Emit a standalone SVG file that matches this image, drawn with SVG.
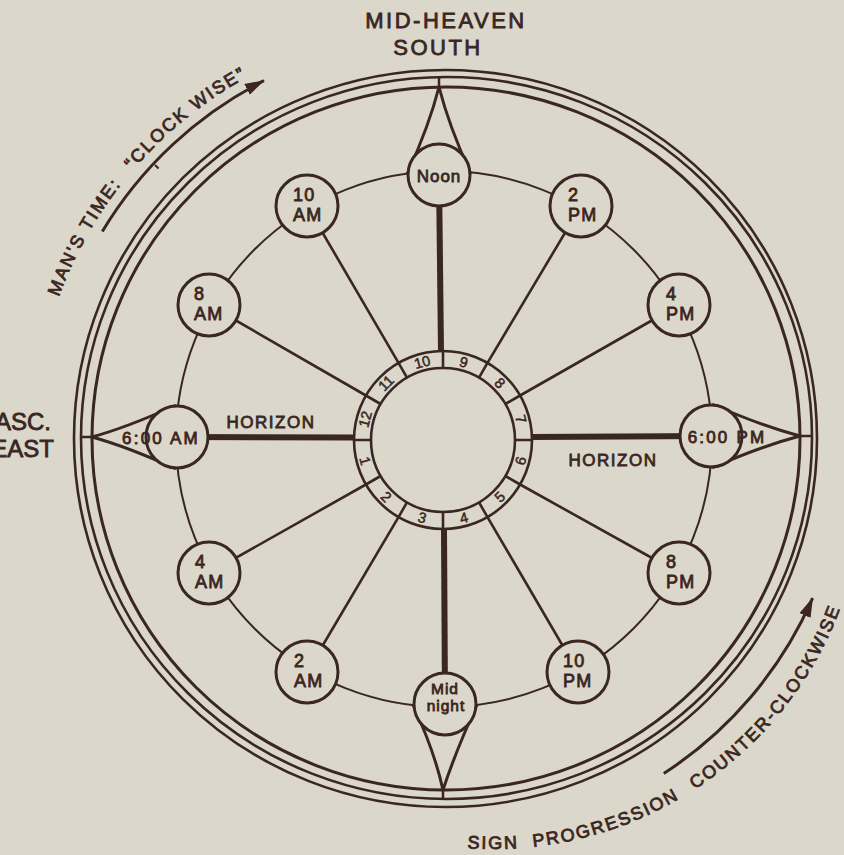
<svg xmlns="http://www.w3.org/2000/svg" width="844" height="855" viewBox="0 0 844 855">
<style>
.bg{fill:#dbd7cb}
.ln{fill:none;stroke:#3a2622}
.nd circle,.nd path{fill:#dbd7cb;stroke:#3a2622;stroke-width:3}
.t{font-family:"Liberation Sans",Arial,sans-serif;fill:#3a2622;stroke:#3a2622;stroke-width:0.8}
.nt{font-size:18px;letter-spacing:1.2px}
.num{font-size:14.5px;text-anchor:middle;dominant-baseline:central;stroke-width:0.5}
.arc{font-size:18px;letter-spacing:2px}
</style>
<defs>
<marker id="ah" viewBox="0 0 20 12" refX="19" refY="6" markerWidth="20" markerHeight="12" markerUnits="userSpaceOnUse" orient="auto">
<path d="M0,0 L20,6 L0,12 Z" fill="#3a2622"/>
</marker>
<path id="arcTL" d="M35.57,402.09 A412,412 0 0 1 410.09,27.57"/>
<path id="arcBR" d="M428.58,843.36 A371,371 0 0 0 862.59,510.34"/>
</defs>
<rect class="bg" x="0" y="0" width="844" height="855"/>

<g id="outer-rings" class="ln">
<ellipse cx="446" cy="438.5" rx="354" ry="351.5" stroke-width="3"/>
<ellipse cx="446.5" cy="438" rx="365.5" ry="361" stroke-width="2.6"/>
<ellipse cx="445.5" cy="438.5" rx="371.5" ry="368.5" stroke-width="2.6"/>
<path d="M439,87 V77.5 M92,437 H81 M800,436 H812 M443,790 V799" stroke-width="2.5"/>
</g>

<g id="connectors" class="ln">
<circle cx="444" cy="439" r="268" stroke-width="2"/>
<g stroke-width="2.6">
<line x1="307" y1="206" x2="398.5" y2="362.9"/>
<line x1="209" y1="305" x2="365.9" y2="395.5"/>
<line x1="209" y1="573" x2="365.9" y2="484.5"/>
<line x1="307" y1="672" x2="398.5" y2="517.1"/>
<line x1="581" y1="206" x2="487.5" y2="362.9"/>
<line x1="679" y1="305" x2="520.1" y2="395.5"/>
<line x1="679" y1="573" x2="520.1" y2="484.5"/>
<line x1="578" y1="672" x2="487.5" y2="517.1"/>
</g>
<g stroke-width="6">
<line x1="439" y1="175" x2="441" y2="352"/>
<line x1="445" y1="704" x2="444" y2="529"/>
<line x1="177" y1="437" x2="354" y2="437.5"/>
<line x1="711" y1="436" x2="532" y2="437"/>
</g>
</g>

<g id="sign-ring">
<g class="ln" stroke-width="2.6">
<circle cx="443" cy="440" r="89"/>
<circle cx="443" cy="440" r="72"/>
<path d="M515,440 H532 M505.4,404 L520.1,395.5 M479,377.6 L487.5,362.9 M443,368 V351 M407,377.6 L398.5,362.9 M380.6,404 L365.9,395.5 M371,440 H354 M380.6,476 L365.9,484.5 M407,502.4 L398.5,517.1 M443,512 V529 M479,502.4 L487.5,517.1 M505.4,476 L520.1,484.5"/>
</g>
<g class="t num">
<text transform="translate(422.2,362.2) rotate(-15)">10</text>
<text transform="translate(463.8,362.2) rotate(15)">9</text>
<text transform="translate(499.9,383.1) rotate(45)">8</text>
<text transform="translate(520.8,419.2) rotate(75)">7</text>
<text transform="translate(520.8,460.8) rotate(-75)">6</text>
<text transform="translate(499.9,496.9) rotate(-45)">5</text>
<text transform="translate(463.8,517.8) rotate(-15)">4</text>
<text transform="translate(422.2,517.8) rotate(15)">3</text>
<text transform="translate(386.1,496.9) rotate(45)">2</text>
<text transform="translate(365.2,460.8) rotate(75)">1</text>
<text transform="translate(365.2,419.2) rotate(-75)">12</text>
<text transform="translate(386.1,383.1) rotate(-45)">11</text>
</g>
</g>

<g id="n-noon" class="nd">
<path d="M408,172 Q429,126 439,87 Q449,126 470,172 Z"/>
<circle cx="439" cy="175" r="31"/>
<text class="t" x="439" y="181.5" font-size="17" letter-spacing="1" text-anchor="middle">Noon</text>
</g>
<g id="n-midnight" class="nd">
<path d="M414,707 Q435,753 443,790 Q455,753 476,707 Z"/>
<circle cx="445" cy="704" r="31"/>
<text class="t" x="445" y="694" font-size="15.5" letter-spacing="1" text-anchor="middle">Mid</text>
<text class="t" x="446" y="711" font-size="15.5" letter-spacing="1" text-anchor="middle">night</text>
</g>
<g id="n-6am" class="nd">
<path d="M174,406 Q128,427 92,437 Q128,447 174,468 Z"/>
<circle cx="177" cy="437" r="31"/>
<text class="t" x="161" y="443.5" font-size="17" letter-spacing="2.2" text-anchor="middle">6:00 AM</text>
</g>
<g id="n-6pm" class="nd">
<path d="M714,405 Q762,426 800,436 Q762,446 714,467 Z"/>
<circle cx="711" cy="436" r="31"/>
<text class="t" x="727" y="443" font-size="17" letter-spacing="2.2" text-anchor="middle">6:00 PM</text>
</g>

<g id="n-10am" class="nd"><circle cx="307" cy="206" r="31"/><text class="t nt" x="293" y="201">10</text><text class="t nt" x="293" y="221">AM</text></g>
<g id="n-8am" class="nd"><circle cx="209" cy="305" r="31"/><text class="t nt" x="194" y="300">8</text><text class="t nt" x="194" y="320">AM</text></g>
<g id="n-4am" class="nd"><circle cx="209" cy="573" r="31"/><text class="t nt" x="195" y="568">4</text><text class="t nt" x="195" y="588">AM</text></g>
<g id="n-2am" class="nd"><circle cx="307" cy="672" r="31"/><text class="t nt" x="294" y="667">2</text><text class="t nt" x="294" y="687">AM</text></g>
<g id="n-2pm" class="nd"><circle cx="581" cy="206" r="31"/><text class="t nt" x="568" y="201">2</text><text class="t nt" x="568" y="221">PM</text></g>
<g id="n-4pm" class="nd"><circle cx="679" cy="305" r="31"/><text class="t nt" x="666" y="300">4</text><text class="t nt" x="666" y="320">PM</text></g>
<g id="n-8pm" class="nd"><circle cx="679" cy="573" r="31"/><text class="t nt" x="666" y="568">8</text><text class="t nt" x="666" y="588">PM</text></g>
<g id="n-10pm" class="nd"><circle cx="578" cy="672" r="31"/><text class="t nt" x="563" y="667">10</text><text class="t nt" x="563" y="687">PM</text></g>

<g id="labels" class="t">
<text x="446" y="28" font-size="22" letter-spacing="2.5" text-anchor="middle">MID-HEAVEN</text>
<text x="438" y="55" font-size="22" letter-spacing="2.5" text-anchor="middle">SOUTH</text>
<text x="51" y="430" font-size="24" text-anchor="end">ASC.</text>
<text x="54" y="457" font-size="24" text-anchor="end">EAST</text>
<text x="271" y="428" font-size="17" letter-spacing="1.5" text-anchor="middle">HORIZON</text>
<text x="613" y="466" font-size="17" letter-spacing="1.5" text-anchor="middle">HORIZON</text>
</g>

<g id="arrows" class="ln" stroke-width="3">
<path d="M102.3,231.5 A401,401 0 0 1 263.9,80.7" marker-end="url(#ah)"/>
<path d="M155,165 L158.6,168.4" stroke-width="2"/>
<path d="M663.8,773.5 A400,400 0 0 0 812.6,598.1" marker-end="url(#ah)"/>
</g>
<g id="arc-labels" class="t arc">
<text><textPath href="#arcTL" startOffset="108">MAN'S TIME:</textPath></text>
<text><textPath href="#arcTL" startOffset="255">“CLOCK WISE”</textPath></text>
<text><textPath href="#arcBR" startOffset="39">SIGN</textPath></text>
<text><textPath href="#arcBR" startOffset="105">PROGRESSION</textPath></text>
<text><textPath href="#arcBR" startOffset="278">COUNTER-CLOCKWISE</textPath></text>
</g>
</svg>
